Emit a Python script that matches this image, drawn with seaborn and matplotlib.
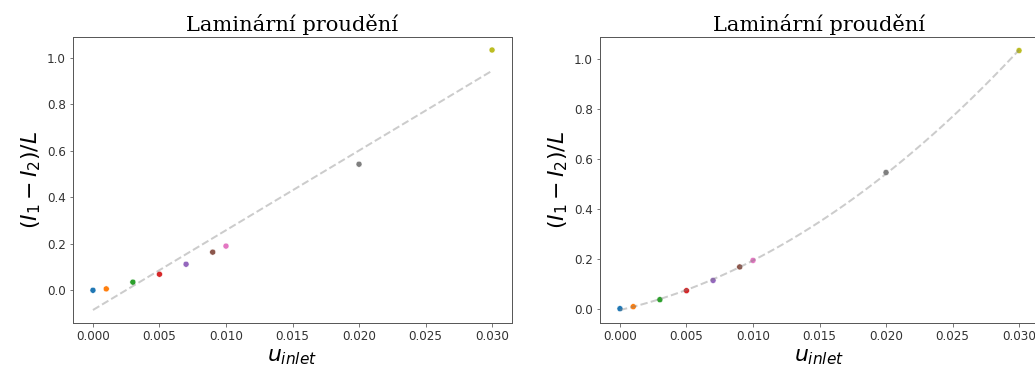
import numpy as np
import pandas as pd
import matplotlib
matplotlib.use("Agg")
import matplotlib.pyplot as plt
import seaborn as sns

u_inlet = [0.0, 0.001, 0.003, 0.005, 0.007, 0.009, 0.010, 0.020, 0.030]
dp_left = [0.0, 0.006, 0.035, 0.069, 0.112, 0.164, 0.190, 0.542, 1.033]
dp_right = [0.0, 0.008, 0.036, 0.072, 0.113, 0.167, 0.193, 0.545, 1.033]
title = "Laminární proudění"
xlabel = r"$u_{inlet}$"
ylabel = r"$(I_1 - I_2)/L$"

plt.rcParams.update({
    "axes.edgecolor": "0.35",
    "axes.linewidth": 1.0,
    "xtick.color": "0.35",
    "ytick.color": "0.35",
    "xtick.labelcolor": "0.2",
    "ytick.labelcolor": "0.2",
    "xtick.labelsize": 12,
    "ytick.labelsize": 12,
    "mathtext.fontset": "dejavusans",
})

fig = plt.figure(figsize=(1035 / 72, 371 / 72), dpi=72)
ax1 = fig.add_axes([73 / 1035, 48 / 371, 439 / 1035, 286 / 371])
ax2 = fig.add_axes([600 / 1035, 48 / 371, 439 / 1035, 286 / 371])

for ax, y, order in [(ax1, dp_left, 1), (ax2, dp_right, 2)]:
    df = pd.DataFrame({"u": u_inlet, "dp": y, "k": [str(i) for i in range(len(u_inlet))]})
    coef = np.polyfit(df["u"], df["dp"], order)
    xf = np.linspace(min(u_inlet), max(u_inlet), 100)
    fit = pd.DataFrame({"u": xf, "dp": np.polyval(coef, xf)})
    sns.scatterplot(data=df, x="u", y="dp", hue="k", palette="tab10", legend=False, ax=ax, s=36, zorder=2)
    sns.lineplot(data=fit, x="u", y="dp", ax=ax, color="gray", alpha=0.4, linestyle="--", linewidth=2, zorder=3)
    ax.set_title(title, fontsize=21, family=["DejaVu Serif", "serif"])
    ax.set_xlabel(xlabel, fontsize=22)
    ax.set_ylabel(ylabel, fontsize=22)
    ax.set_xticks([0.0, 0.005, 0.010, 0.015, 0.020, 0.025, 0.030])
    ax.set_xticklabels(["0.000", "0.005", "0.010", "0.015", "0.020", "0.025", "0.030"])
    ax.set_yticks([0.0, 0.2, 0.4, 0.6, 0.8, 1.0])
    ax.set_yticklabels(["0.0", "0.2", "0.4", "0.6", "0.8", "1.0"])

fig.savefig("out.png", dpi=72)
